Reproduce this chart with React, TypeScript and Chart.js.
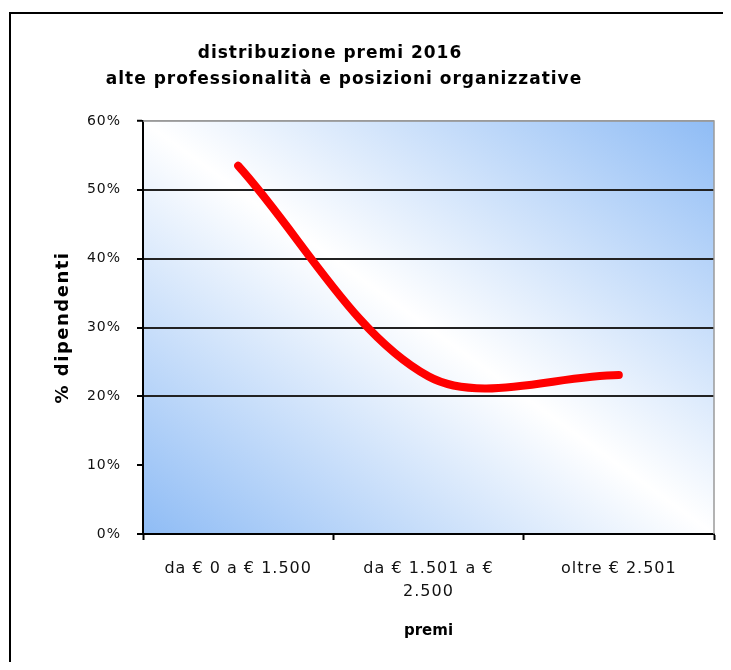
import { useEffect, useRef } from "react";
import { Chart, registerables } from "chart.js";

Chart.register(...registerables);

// Prize brackets (x categories); the middle one wraps onto two lines.
const categories: (string | string[])[] = [
  "da € 0 a € 1.500",
  ["da € 1.501 a €", "2.500"],
  "oltre € 2.501",
];

// Share of employees in each bracket, in percent.
const sharePercent = [53.5, 22.9, 23.1];

// Value axis range and step, in percent.
const yMin = 0;
const yMax = 60;
const yStep = 10;

const titleLines = [
  "distribuzione premi 2016",
  "alte professionalità e posizioni organizzative",
];
const yAxisTitle = "% dipendenti";
const xAxisTitle = "premi";

const BLUE = "#8fbcf5";
const FONT = '"DejaVu Sans"';

// Diagonal blue-white-blue fill behind the plot area, plus the grey frame.
const plotBackground = {
  id: "plotBackground",
  beforeDraw(chart: any) {
    const { ctx, chartArea } = chart;
    const { left, top, right, bottom } = chartArea;
    const w = right - left;
    const h = bottom - top;
    const cx = (left + right) / 2;
    const cy = (top + bottom) / 2;
    // normal to the top-left / bottom-right diagonal
    const len = Math.sqrt(w * w + h * h);
    const nx = h / len;
    const ny = -w / len;
    const d = (w * h) / len;
    const g = ctx.createLinearGradient(cx - nx * d, cy - ny * d, cx + nx * d, cy + ny * d);
    g.addColorStop(0, BLUE);
    g.addColorStop(0.5, "#ffffff");
    g.addColorStop(1, BLUE);
    ctx.save();
    ctx.fillStyle = g;
    ctx.fillRect(left, top, w, h);
    ctx.restore();
    // wider glyph spacing for the axis tick labels
    ctx.letterSpacing = "1px";
  },
  beforeDatasetsDraw(chart: any) {
    const { ctx, chartArea } = chart;
    ctx.save();
    ctx.strokeStyle = "#9a9a9a";
    ctx.lineWidth = 1.5;
    ctx.beginPath();
    ctx.moveTo(chartArea.left, chartArea.top);
    ctx.lineTo(chartArea.right, chartArea.top);
    ctx.lineTo(chartArea.right, chartArea.bottom);
    ctx.stroke();
    ctx.restore();
  },
};

// Chart title and axis titles.
const chartTexts = {
  id: "chartTexts",
  afterDraw(chart: any) {
    const { ctx, chartArea } = chart;
    ctx.save();
    ctx.fillStyle = "#000";
    ctx.textBaseline = "middle";
    ctx.textAlign = "center";
    ctx.letterSpacing = "1px";
    ctx.font = `bold 17px ${FONT}`;
    ctx.fillText(titleLines[0], 319, 40);
    ctx.fillText(titleLines[1], 333, 66);

    ctx.letterSpacing = "0px";
    ctx.font = `bold 15px ${FONT}`;
    ctx.fillText(xAxisTitle, (chartArea.left + chartArea.right) / 2, 617);

    ctx.translate(52, (chartArea.top + chartArea.bottom) / 2);
    ctx.rotate(-Math.PI / 2);
    ctx.letterSpacing = "1.5px";
    ctx.font = `bold 18px ${FONT}`;
    ctx.fillText(yAxisTitle, 0, 0);
    ctx.restore();
    ctx.letterSpacing = "0px";
  },
};

export default function App() {
  const canvasRef = useRef<HTMLCanvasElement>(null);

  useEffect(() => {
    const canvas = canvasRef.current;
    if (!canvas) return;
    const chart = new Chart(canvas, {
      type: "line",
      data: {
        labels: categories,
        datasets: [
          {
            data: sharePercent,
            borderColor: "#ff0000",
            borderWidth: 8,
            borderCapStyle: "round",
            borderJoinStyle: "round",
            tension: 0.33,
            pointRadius: 0,
            fill: false,
          },
        ],
      },
      options: {
        responsive: false,
        animation: false,
        devicePixelRatio: 1,
        layout: { padding: { left: 0, right: 9, top: 107, bottom: 0 } },
        plugins: {
          legend: { display: false },
          title: { display: false },
          tooltip: { enabled: false },
        },
        scales: {
          x: {
            offset: true,
            grid: {
              offset: true,
              drawOnChartArea: false,
              drawTicks: true,
              tickLength: 6,
              tickColor: "#000",
              tickWidth: 2,
            },
            border: { color: "#000", width: 2 },
            ticks: {
              color: "#111",
              font: { family: "DejaVu Sans", size: 16, lineHeight: 1.44 },
              padding: 17,
              maxRotation: 0,
              autoSkip: false,
            },
            afterFit: (scale: any) => {
              scale.height = 120;
            },
          },
          y: {
            min: yMin,
            max: yMax,
            ticks: {
              stepSize: yStep,
              callback: (v: any) => `${v}%`,
              color: "#111",
              font: { family: "DejaVu Sans", size: 14 },
              padding: 16,
            },
            grid: {
              color: (ctx: any) => {
                const v = ctx.tick ? ctx.tick.value : 0;
                if (v === yMax) return "#9a9a9a";
                if (v === 10) return "rgba(0,0,0,0)";
                return "#222";
              },
              lineWidth: (ctx: any) => (ctx.tick && ctx.tick.value === yMax ? 1.5 : 2),
              tickColor: "#000",
              tickLength: 6,
              tickWidth: 2,
            },
            border: { color: "#000", width: 2 },
            afterFit: (scale: any) => {
              scale.width = 132;
            },
          },
        },
      },
      plugins: [plotBackground, chartTexts],
    });
    return () => chart.destroy();
  }, []);

  return (
    <div style={{ position: "relative", width: 723, height: 654, overflow: "hidden" }}>
      <div
        style={{
          position: "absolute",
          left: 1,
          top: 4,
          width: 900,
          height: 900,
          borderLeft: "2px solid #000",
          borderTop: "2px solid #000",
        }}
      />
      <canvas
        ref={canvasRef}
        width={712}
        height={640}
        style={{ position: "absolute", left: 3, top: 6 }}
      />
    </div>
  );
}
